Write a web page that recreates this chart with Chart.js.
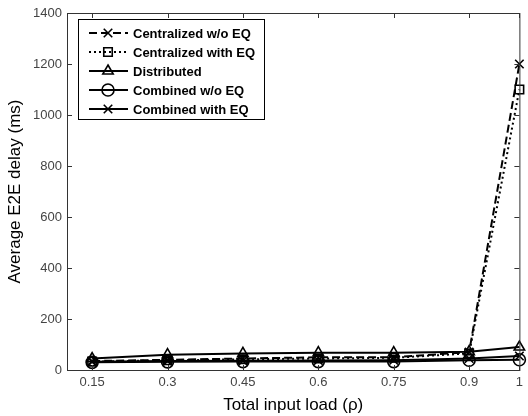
<!DOCTYPE html>
<html>
<head>
<meta charset="utf-8">
<script src="https://cdn.jsdelivr.net/npm/chart.js@4"></script>
<style>
  html, body { margin: 0; padding: 0; background: #fff; }
  #wrap { width: 528px; height: 416px; }
</style>
</head>
<body>
<div id="wrap"><canvas id="myChart" width="528" height="416"></canvas></div>
<script>
const loads = [0.15, 0.3, 0.45, 0.6, 0.75, 0.9, 1];
const xTicks = [0.15, 0.3, 0.45, 0.6, 0.75, 0.9, 1];
const yTicks = [0, 200, 400, 600, 800, 1000, 1200, 1400];

const centralNoEq = [35, 40, 45, 50, 50, 70, 1200];
const centralEq = [33, 38, 42, 45, 48, 65, 1100];
const distributed = [45, 60, 65, 68, 68, 72, 90];
const combinedNoEq = [30, 32, 33, 33, 33, 38, 40];
const combinedEq = [32, 35, 36, 37, 38, 45, 55];

const seriesNames = ['Centralized w/o EQ', 'Centralized with EQ', 'Distributed', 'Combined w/o EQ', 'Combined with EQ'];

function pts(vals) {
    return vals.map((v, i) => ({ x: loads[i], y: v }));
}

function makeSet(label, vals, style, dash) {
    return {
        label: label,
        data: pts(vals),
        borderColor: '#000',
        borderWidth: 2,
        borderDash: dash,
        pointStyle: style,
        pointRadius: 6,
        pointBorderWidth: 1.6,
        pointBorderColor: '#000',
        pointBackgroundColor: 'rgba(0,0,0,0)',
        tension: 0,
        fill: false,
        clip: false
    };
}

// kutu + içe doğru tik çizgileri
const framePlugin = {
    id: 'frame',
    afterDraw(chart) {
        const ctx = chart.ctx;
        const a = chart.chartArea;
        const xs = chart.scales.x, ys = chart.scales.y;
        ctx.save();
        ctx.strokeStyle = '#333';
        ctx.lineWidth = 1;
        ctx.setLineDash([]);
        ctx.strokeRect(a.left + 0.5, a.top + 0.5, a.right - a.left, a.bottom - a.top);
        ctx.beginPath();
        xTicks.forEach(t => {
            const px = Math.round(xs.getPixelForValue(t)) + 0.5;
            ctx.moveTo(px, a.bottom); ctx.lineTo(px, a.bottom - 5);
            ctx.moveTo(px, a.top); ctx.lineTo(px, a.top + 5);
        });
        yTicks.forEach(t => {
            const py = Math.round(ys.getPixelForValue(t)) + 0.5;
            ctx.moveTo(a.left, py); ctx.lineTo(a.left + 5, py);
            ctx.moveTo(a.right, py); ctx.lineTo(a.right - 5, py);
        });
        ctx.stroke();
        ctx.restore();
    }
};

// MATLAB tarzı lejant
const legendPlugin = {
    id: 'boxLegend',
    afterDraw(chart) {
        const ctx = chart.ctx;
        const bx = 78, by = 19, bw = 186, bh = 100;
        ctx.save();
        ctx.fillStyle = '#fff';
        ctx.fillRect(bx, by, bw, bh);
        ctx.strokeStyle = '#000';
        ctx.lineWidth = 1;
        ctx.strokeRect(bx + 0.5, by + 0.5, bw, bh);
        chart.data.datasets.forEach((ds, i) => {
            const y = by + 14 + i * 19;
            ctx.strokeStyle = '#000';
            ctx.lineWidth = 2;
            ctx.setLineDash(ds.borderDash || []);
            ctx.beginPath();
            ctx.moveTo(89, y); ctx.lineTo(128, y);
            ctx.stroke();
            ctx.setLineDash([]);
            ctx.lineWidth = 1.6;
            ctx.fillStyle = 'rgba(0,0,0,0)';
            Chart.helpers.drawPoint(ctx, { pointStyle: ds.pointStyle, radius: 6, rotation: 0, borderWidth: 1.6 }, 108, y);
            ctx.fillStyle = '#000';
            ctx.font = 'bold 13px "Liberation Sans", Arial, sans-serif';
            ctx.textBaseline = 'middle';
            ctx.fillText(ds.label, 133, y + 1);
        });
        ctx.restore();
    }
};

const ctx = document.getElementById('myChart').getContext('2d');
const myChart = new Chart(ctx, {
    type: 'line',
    data: {
        datasets: [
            makeSet(seriesNames[0], centralNoEq, 'crossRot', [8, 4]),
            makeSet(seriesNames[1], centralEq, 'rect', [2, 3]),
            makeSet(seriesNames[2], distributed, 'triangle', []),
            makeSet(seriesNames[3], combinedNoEq, 'circle', []),
            makeSet(seriesNames[4], combinedEq, 'crossRot', [])
        ]
    },
    options: {
        responsive: false,
        animation: false,
        layout: { padding: { top: 13, right: 7, left: 0, bottom: 0 } },
        plugins: {
            legend: { display: false },
            tooltip: { enabled: false }
        },
        scales: {
            x: {
                type: 'linear',
                min: 0.1,
                max: 1,
                afterBuildTicks: s => { s.ticks = xTicks.map(v => ({ value: v })); },
                afterFit: s => { s.height = 46; },
                grid: { display: false, drawTicks: false },
                border: { display: false },
                ticks: {
                    padding: 5,
                    color: '#444',
                    font: { family: '"Liberation Sans", Arial, sans-serif', size: 13 },
                    maxRotation: 0,
                    callback: v => String(v)
                },
                title: {
                    display: true,
                    text: 'Total input load (ρ)',
                    color: '#000',
                    padding: { top: 1, bottom: 0 },
                    font: { family: '"Liberation Sans", Arial, sans-serif', size: 17 }
                }
            },
            y: {
                min: 0,
                max: 1400,
                afterBuildTicks: s => { s.ticks = yTicks.map(v => ({ value: v })); },
                afterFit: s => { s.width = 67; },
                grid: { display: false, drawTicks: false },
                border: { display: false },
                ticks: {
                    padding: 5,
                    color: '#444',
                    font: { family: '"Liberation Sans", Arial, sans-serif', size: 13 },
                    callback: v => String(v)
                },
                title: {
                    display: true,
                    text: 'Average E2E delay (ms)',
                    color: '#000',
                    padding: { top: 5, bottom: 0 },
                    font: { family: '"Liberation Sans", Arial, sans-serif', size: 17 }
                }
            }
        }
    },
    plugins: [framePlugin, legendPlugin]
});
</script>
</body>
</html>
